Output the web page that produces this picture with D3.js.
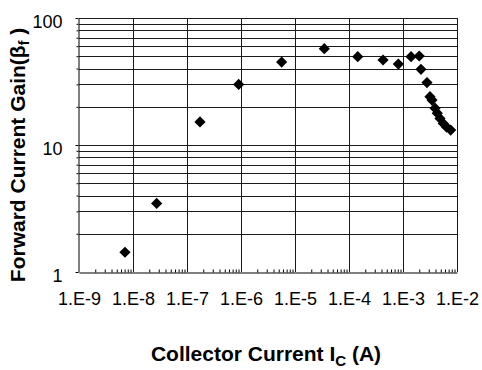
<!DOCTYPE html>
<html><head><meta charset="utf-8">
<script src="https://cdn.jsdelivr.net/npm/d3@7"></script>
<style>body{margin:0;background:#fff}svg{display:block}</style>
</head><body>
<svg id="c" width="482" height="370"></svg>
<script>
const icValues = [7.1e-9, 2.74e-8, 1.74e-7, 9.06e-7, 5.66e-6, 3.49e-5, 1.45e-4, 4.27e-4, 8.2e-4, 1.41e-3, 2.0e-3, 2.15e-3, 2.78e-3, 3.16e-3, 3.44e-3, 3.92e-3, 4.31e-3, 4.84e-3, 5.57e-3, 6.44e-3, 7.64e-3];
const betaValues = [1.43, 3.47, 15.2, 30, 45, 57.3, 49.6, 46.7, 43.4, 49.6, 50.2, 39.4, 31, 24, 22.6, 19.5, 17.8, 16.2, 14.8, 13.8, 13.1];
const xTickValues = [1e-9, 1e-8, 1e-7, 1e-6, 1e-5, 1e-4, 1e-3, 1e-2];
const xTickLabels = ["1.E-9", "1.E-8", "1.E-7", "1.E-6", "1.E-5", "1.E-4", "1.E-3", "1.E-2"];
const yTickValues = [1, 10, 100];
const yTickLabels = ["1", "10", "100"];

const svg = d3.select("#c");
const FONT = "Liberation Sans, Arial, sans-serif";
const L = 79, R = 457, T = 18, B = 272;
const x = d3.scaleLog().domain([1e-9, 1e-2]).range([L, R]);
const y = d3.scaleLog().domain([1, 100]).range([B, T]);

const xMinor = [], yMinor = [];
for (let e = -9; e < -2; e++) for (let k = 2; k <= 9; k++) xMinor.push(k * Math.pow(10, e));
for (let e = 0; e < 2; e++) for (let k = 2; k <= 9; k++) yMinor.push(k * Math.pow(10, e));

const g = svg.append("g");
g.selectAll("line.hg").data(yMinor.concat([10, 100])).enter().append("line")
  .attr("x1", L).attr("x2", R).attr("y1", d => Math.round(y(d)) + 0.5).attr("y2", d => Math.round(y(d)) + 0.5)
  .attr("stroke", "#1a1a1a").attr("stroke-width", 1);
g.selectAll("line.vg").data(xTickValues.slice(1)).enter().append("line")
  .attr("y1", T).attr("y2", B).attr("x1", d => Math.round(x(d)) + 0.5).attr("x2", d => Math.round(x(d)) + 0.5)
  .attr("stroke", "#1a1a1a").attr("stroke-width", 1);

// x axis
const xAxis = d3.axisBottom(x).tickValues(xTickValues).tickFormat((d, i) => xTickLabels[i]).tickSize(0).tickPadding(20);
const xa = svg.append("g").attr("transform", `translate(0,${B + 0.5})`).call(xAxis);
xa.select(".domain").attr("stroke", "#000");
xa.selectAll("text").attr("font-family", FONT).attr("font-size", 18).attr("fill", "#000");
const xMinAxis = d3.axisTop(x).tickValues(xMinor).tickFormat("").tickSize(3).tickSizeOuter(0);
const xm = svg.append("g").attr("transform", `translate(0,${B + 0.5})`).call(xMinAxis);
xm.select(".domain").remove();

// y axis
const yAxis = d3.axisLeft(y).tickValues(yTickValues).tickFormat((d, i) => yTickLabels[i]).tickSize(3).tickSizeOuter(0).tickPadding(13);
const ya = svg.append("g").attr("transform", `translate(${L - 0.5},0)`).call(yAxis);
ya.select(".domain").attr("stroke", "#000");
ya.selectAll("text").attr("font-family", FONT).attr("font-size", 18).attr("fill", "#000").attr("dy", "0.5em");
const yMinAxis = d3.axisLeft(y).tickValues(yMinor).tickFormat("").tickSize(2).tickSizeOuter(0);
const ym = svg.append("g").attr("transform", `translate(${L - 0.5},0)`).call(yMinAxis);
ym.select(".domain").remove();

// data diamonds
const s = 5.6;
svg.append("g").selectAll("path").data(icValues.map((v, i) => [v, betaValues[i]])).enter().append("path")
  .attr("d", d => { const cx = x(d[0]), cy = y(d[1]); return `M${cx},${cy - s}L${cx + s},${cy}L${cx},${cy + s}L${cx - s},${cy}Z`; })
  .attr("fill", "#000");

// axis titles
const xt = svg.append("text").attr("x", 266).attr("y", 361).attr("text-anchor", "middle")
  .attr("font-family", FONT).attr("font-weight", "bold").attr("font-size", 21);
xt.append("tspan").text("Collector Current I");
xt.append("tspan").attr("font-size", 15).attr("dy", 5).text("C");
xt.append("tspan").attr("dy", -5).text(" (A)");

const yt = svg.append("text").attr("transform", "translate(25,155) rotate(-90)").attr("text-anchor", "middle")
  .attr("font-family", FONT).attr("font-weight", "bold").attr("font-size", 21);
yt.append("tspan").text("Forward Current Gain(β");
yt.append("tspan").attr("font-size", 14).attr("dy", 4).text("f");
yt.append("tspan").attr("dy", -4).text(" )");
</script>
</body></html>
